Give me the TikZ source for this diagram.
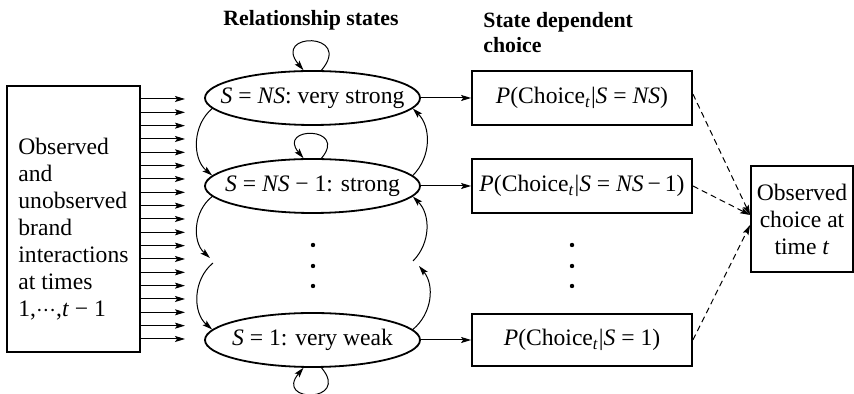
\documentclass[tikz,border=0pt]{standalone}
\usepackage{fontspec}
\setmainfont{Liberation Serif}
\usetikzlibrary{arrows.meta,shapes.geometric,calc}

\begin{document}
\begin{tikzpicture}[x=0.5pt,y=0.5pt,
  font=\fontsize{11.8pt}{13.5pt}\selectfont,
  >={Stealth[length=5pt,width=3pt,inset=1pt]},
  arrow/.style={->,line width=0.5pt},
  dashedarrow/.style={->,line width=0.5pt,dash pattern=on 3pt off 2pt},
  frame/.style={draw,rectangle,line width=0.9pt,inner sep=0pt},
  stateell/.style={draw,ellipse,line width=0.9pt,inner sep=0pt,
    minimum width=107.5pt,minimum height=27pt},
  title/.style={font=\fontsize{10.9pt}{12.5pt}\selectfont\bfseries,inner sep=0pt},
  dotmark/.style={circle,fill,inner sep=0pt,minimum size=2.2pt}
]
\useasboundingbox (0,0) rectangle (854,394);

% column titles
\node[title,anchor=base] (ttlA) at (311,368) {Relationship states};
\node[title,anchor=north west,align=left] (ttlB) at (483,382) {State dependent\\choice};

% history box with its inputs
\node[frame,minimum width=66.5pt,minimum height=133pt] (inbox) at (73.5,175) {};
\node[anchor=north west,inner sep=0pt,align=left] (intext) at (18,256)
  {Observed\\and\\unobserved\\brand\\interactions\\at times\\1,${\cdotp}{\cdotp}{\cdotp}$,\textit{t} − 1};
\foreach \i in {0,...,18} {
  \coordinate (tip\i) at (185,{175+(9-\i)*13.333});
  \draw[arrow] (inbox.east |- tip\i) -- (tip\i);
}

% relationship states
\node[stateell] (e1) at (312.5,296) {};
\node (l1) at (e1) {\textit{S} = \textit{NS}: very strong};
\node[stateell] (e2) at (312.5,208) {};
\node (l2) at (e2) {\textit{S} = \textit{NS} − 1: strong};
\node[stateell] (e3) at (312.5,54) {};
\node (l3) at (e3) {\textit{S} = 1: very weak};

\node[dotmark] (da1) at (313,149) {};
\node[dotmark] (da2) at (313,128) {};
\node[dotmark] (da3) at (313,108) {};

% self transitions
\draw[arrow] (e1.72) .. controls +(50:50) and +(130:50) .. (e1.108);
\draw[arrow] (e2.72) .. controls +(50:42) and +(130:42) .. (e2.108);
\draw[arrow] (e3.-72) .. controls +(-50:46) and +(-130:46) .. (e3.-108);

% transitions down (left) and up (right)
\coordinate (mlA) at (210,136);
\coordinate (mlB) at (213,131);
\coordinate (mrA) at (419,128);
\coordinate (mrB) at (413,133);
\draw[arrow] (e1.186) to[bend right=50] (e2.174);
\draw[arrow] (e2.186) to[bend right=50] (mlA);
\draw[arrow] (mlB) to[bend right=50] (e3.174);
\draw[arrow] (e3.6) to[bend right=45] (mrA);
\draw[arrow] (mrB) to[bend right=45] (e2.-6);
\draw[arrow] (e2.6) to[bend right=45] (e1.-6);

% state dependent choice
\node[frame,minimum width=110pt,minimum height=27pt] (c1) at (582,296)
  {\textit{P}(Choice\textsubscript{\textit{t}}|\textit{S} = \textit{NS})};
\node[frame,minimum width=110pt,minimum height=27pt] (c2) at (582,208)
  {\textit{P}(Choice\textsubscript{\textit{t}}|\textit{S} = \textit{NS}\,−\,1)};
\node[frame,minimum width=110pt,minimum height=26pt] (c3) at (582,54)
  {\textit{P}(Choice\textsubscript{\textit{t}}|\textit{S} = 1)};

\node[dotmark] (db1) at (572,149) {};
\node[dotmark] (db2) at (572,128) {};
\node[dotmark] (db3) at (572,108) {};

\draw[arrow] (e1.east) -- (c1.west);
\draw[arrow] (e2.east) -- (c2.west);
\draw[arrow] (e3.east) -- (c3.west);

% observed outcome
\node[frame,minimum width=51pt,minimum height=53pt,align=center] (obs) at (802,175)
  {Observed\\choice at\\time \textit{t}};

\draw[dashedarrow] ([yshift=2pt]c1.east) -- ([yshift=2pt]obs.west);
\draw[dashedarrow] (c2.east) -- ([yshift=2pt]obs.west);
\draw[dashedarrow] (c3.east) -- ([yshift=-3pt]obs.west);
\end{tikzpicture}
\end{document}
